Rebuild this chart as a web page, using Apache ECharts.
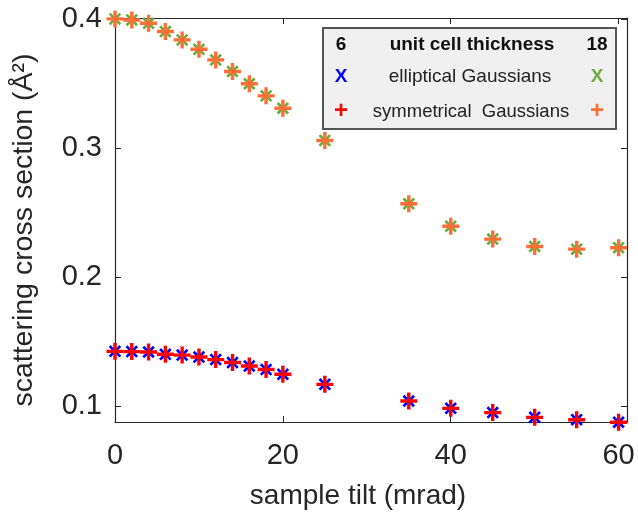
<!DOCTYPE html>
<html><head><meta charset="utf-8">
<script src="https://cdn.jsdelivr.net/npm/echarts@6/dist/echarts.min.js"></script>
<style>html,body{margin:0;padding:0;background:#fff}#c{width:638px;height:520px}</style>
</head><body><div id="c"></div>
<script>
const tilt = [0,2,4,6,8,10,12,14,16,18,20,25,35,40,45,50,55,60];
const ellip6 = [0.1424,0.1422,0.1419,0.1401,0.1395,0.1380,0.1360,0.1337,0.1310,0.1283,0.1246,0.1168,0.1039,0.0982,0.0949,0.0912,0.0894,0.0874];
const symm6  = [0.1424,0.1422,0.1419,0.1401,0.1395,0.1380,0.1360,0.1337,0.1310,0.1283,0.1246,0.1168,0.1039,0.0982,0.0949,0.0912,0.0894,0.0874];
const ellip18 = [0.4003,0.3995,0.3969,0.3905,0.3840,0.3767,0.3685,0.3595,0.3500,0.3406,0.3310,0.3060,0.2569,0.2395,0.2295,0.2238,0.2217,0.2228];
const symm18  = [0.4003,0.3995,0.3969,0.3905,0.3840,0.3767,0.3685,0.3595,0.3500,0.3406,0.3310,0.3060,0.2569,0.2395,0.2295,0.2238,0.2217,0.2228];
const xTicks = [0,20,40,60];
const yTicks = [0.1,0.2,0.3,0.4];

const PLUS = 'path://M4,0 H6 V4 H10 V6 H6 V10 H4 V6 H0 V4 H4 Z';
const XS = 'path://M4.1,0 H5.9 V4.1 H10 V5.9 H5.9 V10 H4.1 V5.9 H0 V4.1 H4.1 Z';
const FONT = 'Liberation Sans, Arial, sans-serif';
const AX = '#262626';

function pts(ys){ return tilt.map((x,i)=>[x,ys[i]]); }
function ser(ys, color, isX){
  return {type:'scatter', data:pts(ys), symbol: isX?XS:PLUS, symbolSize: isX?15:17,
    symbolRotate: isX?45:0, itemStyle:{color:color, opacity:1}, z: isX?2:3, silent:true, clip:false};
}
const tick = {show:true, inside:true, length:6, lineStyle:{color:AX}};

const chart = echarts.init(document.getElementById('c'));
chart.setOption({
  animation:false,
  grid:{left:115, right:11, top:18, bottom:98, containLabel:false},
  xAxis:[
    {type:'value', min:0, max:61, position:'bottom',
     name:'sample tilt (mrad)', nameLocation:'middle', nameGap:60,
     nameTextStyle:{fontFamily:FONT, fontSize:28, color:AX, padding:[0,26,0,0]},
     axisLine:{show:true, onZero:false, lineStyle:{color:AX, width:1.2}},
     axisTick:Object.assign({customValues:xTicks}, tick),
     axisLabel:{fontFamily:FONT, fontSize:29, color:AX, margin:19, customValues:xTicks},
     splitLine:{show:false}},
    {type:'value', min:0, max:61, position:'top',
     axisLine:{show:true, onZero:false, lineStyle:{color:AX, width:1.2}},
     axisTick:Object.assign({customValues:xTicks}, tick),
     axisLabel:{show:false}, splitLine:{show:false}}
  ],
  yAxis:[
    {type:'value', min:0.0876, max:0.401, position:'left',
     name:'scattering cross section (Å²)', nameLocation:'middle', nameGap:76,
     nameTextStyle:{fontFamily:FONT, fontSize:28.5, color:AX, padding:[0,20,0,0]},
     axisLine:{show:true, onZero:false, lineStyle:{color:AX, width:1.2}},
     axisTick:Object.assign({customValues:yTicks}, tick),
     axisLabel:{fontFamily:FONT, fontSize:29, color:AX, margin:13, customValues:yTicks,
       formatter:v=>v.toFixed(1)},
     splitLine:{show:false}},
    {type:'value', min:0.0876, max:0.401, position:'right',
     axisLine:{show:true, onZero:false, lineStyle:{color:AX, width:1.2}},
     axisTick:Object.assign({customValues:yTicks}, tick),
     axisLabel:{show:false}, splitLine:{show:false}}
  ],
  series:[
    ser(ellip6,'#0000FF',true),
    ser(ellip18,'#6EAA3C',true),
    ser(symm6,'#FF0000',false),
    ser(symm18,'#FF6E37',false)
  ],
  graphic:[
    {type:'rect', left:322, top:27, shape:{width:293, height:101},
     style:{fill:'#f0f0f0', stroke:'#555', lineWidth:2}, z:10},
    {type:'text', x:341, y:45, style:{text:'6', fontFamily:FONT, fontSize:19, fontWeight:'bold', fill:'#111', align:'center', verticalAlign:'middle'}, z:11},
    {type:'text', x:472, y:45, style:{text:'unit cell thickness', fontFamily:FONT, fontSize:19, fontWeight:'bold', fill:'#111', align:'center', verticalAlign:'middle'}, z:11},
    {type:'text', x:597, y:45, style:{text:'18', fontFamily:FONT, fontSize:19, fontWeight:'bold', fill:'#111', align:'center', verticalAlign:'middle'}, z:11},
    {type:'text', x:341, y:77, style:{text:'X', fontFamily:FONT, fontSize:19, fontWeight:'bold', fill:'#0000FF', align:'center', verticalAlign:'middle'}, z:11},
    {type:'text', x:470, y:77, style:{text:'elliptical Gaussians', fontFamily:FONT, fontSize:19, fill:'#222', align:'center', verticalAlign:'middle'}, z:11},
    {type:'text', x:597, y:77, style:{text:'X', fontFamily:FONT, fontSize:19, fontWeight:'bold', fill:'#6EAA3C', align:'center', verticalAlign:'middle'}, z:11},
    {type:'text', x:341, y:111, style:{text:'+', fontFamily:FONT, fontSize:24, fontWeight:'bold', fill:'#FF0000', align:'center', verticalAlign:'middle'}, z:11},
    {type:'text', x:471, y:112, style:{text:'symmetrical  Gaussians', fontFamily:FONT, fontSize:18.5, fill:'#222', align:'center', verticalAlign:'middle'}, z:11},
    {type:'text', x:597, y:111, style:{text:'+', fontFamily:FONT, fontSize:24, fontWeight:'bold', fill:'#FF6E37', align:'center', verticalAlign:'middle'}, z:11}
  ]
});
</script></body></html>
